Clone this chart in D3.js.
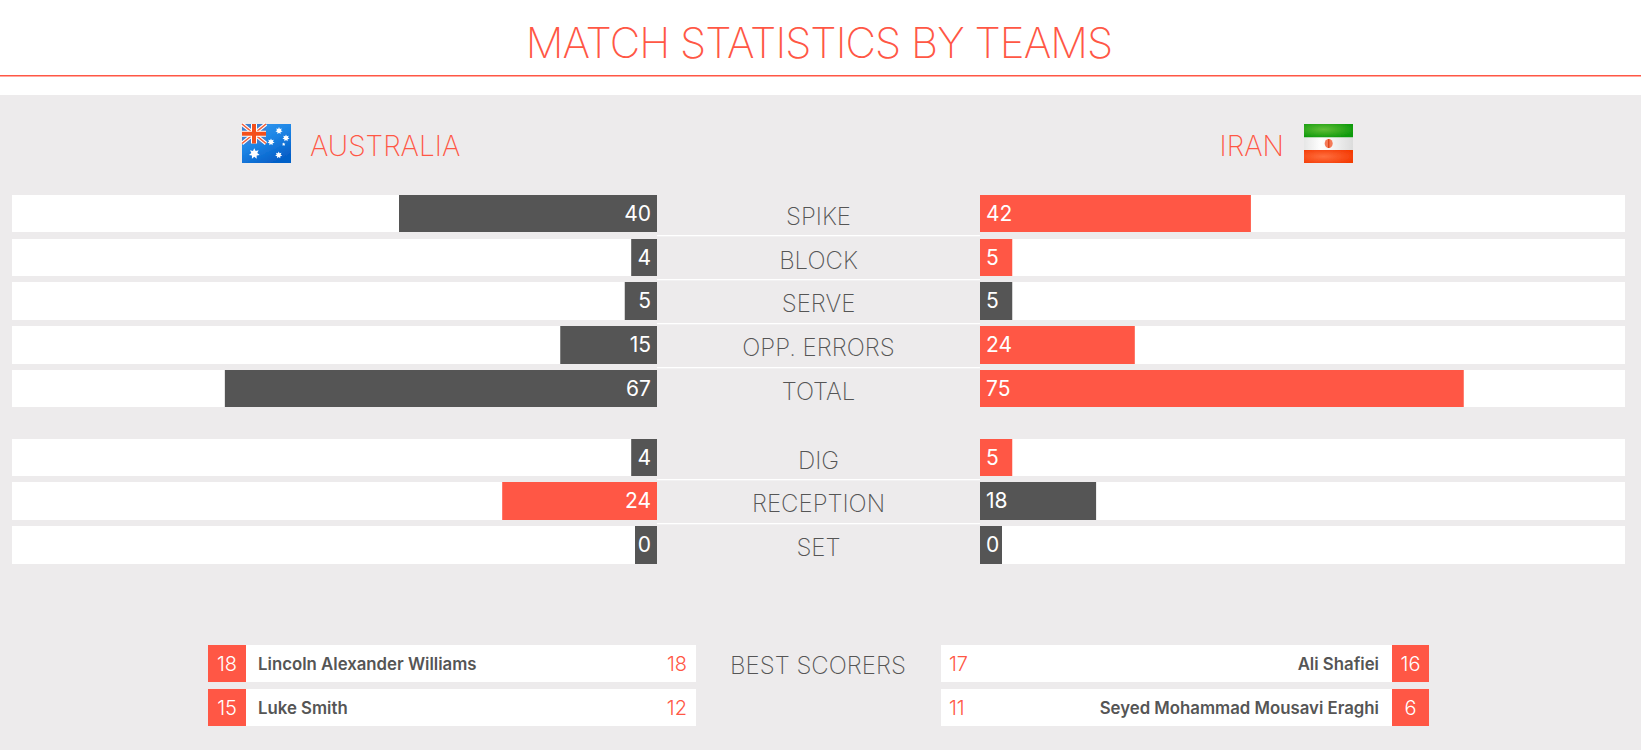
<!DOCTYPE html>
<html>

<head>
    <title>Match statistics by teams</title>
    <script src="https://d3js.org/d3.v7.min.js"></script>
    <style>
        body { margin: 0; background: #edebec; }
        svg { display: block; }
        text { font-family: Inter, Lato, sans-serif; }
    </style>
</head>

<body>
    <svg id="chart" width="1641" height="750"></svg>

    <script>
        const attackCategories = ["SPIKE", "BLOCK", "SERVE", "OPP. ERRORS", "TOTAL"];
        const attackAustralia = [40, 4, 5, 15, 67];
        const attackIran = [42, 5, 5, 24, 75];

        const defenceCategories = ["DIG", "RECEPTION", "SET"];
        const defenceAustralia = [4, 24, 0];
        const defenceIran = [5, 18, 0];

        const scorerRows = [0, 1];
        const australiaScorers = ["Lincoln Alexander Williams", "Luke Smith"];
        const australiaShirts = [18, 15];
        const australiaPoints = [18, 12];
        const iranScorers = ["Ali Shafiei", "Seyed Mohammad Mousavi Eraghi"];
        const iranShirts = [16, 6];
        const iranPoints = [17, 11];

        const coral = "#ff5745", dark = "#555555", grey = "#edebec";
        const leftEdge = 657, rightEdge = 980, barSpan = 645, minBar = 22;
        const midX = (leftEdge + rightEdge) / 2;

        const svg = d3.select("#chart");
        const defs = svg.append("defs");

        defs.append("filter").attr("id", "soft").append("feGaussianBlur").attr("stdDeviation", 0.35);

        // background and header
        svg.append("rect").attr("width", 1641).attr("height", 750).attr("fill", grey);
        svg.append("rect").attr("width", 1641).attr("height", 95).attr("fill", "#fff");
        svg.append("rect").attr("y", 75).attr("width", 1641).attr("height", 1.5).attr("fill", coral);
        svg.append("text").attr("x", 819).attr("y", 58).attr("text-anchor", "middle")
            .attr("font-size", 42).attr("letter-spacing", -0.95).attr("font-weight", 200).attr("fill", coral)
            .text("MATCH STATISTICS BY TEAMS");

        svg.append("text").attr("x", 310).attr("y", 156).attr("font-size", 28).attr("font-weight", 200)
            .attr("fill", coral).text("AUSTRALIA");
        svg.append("text").attr("x", 1284).attr("y", 156).attr("text-anchor", "end").attr("font-size", 28)
            .attr("font-weight", 200).attr("fill", coral).text("IRAN");

        drawAustraliaFlag(242, 124);
        drawIranFlag(1304, 124);

        var xScale = d3.scaleLinear().domain([0, 100]).range([0, barSpan]);

        function drawGroup(categories, left, right, top, bottom, pad) {
            var yScale = d3.scaleBand().domain(categories).range([top, bottom]).paddingInner(pad);
            var g = svg.append("g");

            categories.forEach(function (cat, i) {
                var y = Math.round(yScale(cat)), h = Math.round(yScale(cat) + yScale.bandwidth()) - y;
                var lw = Math.max(xScale(left[i]), minBar), rw = Math.max(xScale(right[i]), minBar);
                var row = g.append("g");

                // thin white separator under the label
                if (i < categories.length - 1) {
                    var nextTop = Math.round(yScale(categories[i + 1]));
                    row.append("rect").attr("x", leftEdge).attr("width", rightEdge - leftEdge)
                        .attr("y", Math.floor((y + h + nextTop) / 2)).attr("height", 1.3).attr("fill", "#fff");
                }

                row.append("rect").attr("x", leftEdge - barSpan).attr("y", y).attr("width", barSpan).attr("height", h).attr("fill", "#fff");
                row.append("rect").attr("x", rightEdge).attr("y", y).attr("width", barSpan).attr("height", h).attr("fill", "#fff");
                row.append("rect").attr("x", leftEdge - lw).attr("y", y).attr("width", lw).attr("height", h)
                    .attr("fill", left[i] > right[i] ? coral : dark);
                row.append("rect").attr("x", rightEdge).attr("y", y).attr("width", rw).attr("height", h)
                    .attr("fill", right[i] > left[i] ? coral : dark);

                row.append("text").attr("x", leftEdge - 6).attr("y", y + 26).attr("text-anchor", "end")
                    .attr("font-size", 21).attr("font-weight", 400).attr("fill", "#fff").text(left[i]);
                row.append("text").attr("x", rightEdge + 6).attr("y", y + 26)
                    .attr("font-size", 21).attr("font-weight", 400).attr("fill", "#fff").text(right[i]);
                row.append("text").attr("x", midX).attr("y", y + 29.5).attr("text-anchor", "middle")
                    .attr("font-size", 24).attr("font-weight", 250).attr("fill", dark).text(cat);
            });
        }

        drawGroup(attackCategories, attackAustralia, attackIran, 195, 407.4, 0.143);
        drawGroup(defenceCategories, defenceAustralia, defenceIran, 438.7, 563.7, 0.14);

        // best scorers
        var scorerY = d3.scaleBand().domain(scorerRows).range([645, 726]).paddingInner(0.159);

        svg.append("text").attr("x", 818).attr("y", 674).attr("text-anchor", "middle")
            .attr("font-size", 24).attr("font-weight", 250).attr("fill", dark).text("BEST SCORERS");

        scorerRows.forEach(function (i) {
            var y = scorerY(i), h = scorerY.bandwidth();
            svg.append("rect").attr("x", 208).attr("y", y).attr("width", 488).attr("height", h).attr("fill", "#fff");
            svg.append("rect").attr("x", 208).attr("y", y).attr("width", 38).attr("height", h).attr("fill", coral);
            svg.append("text").attr("x", 227).attr("y", y + 26).attr("text-anchor", "middle")
                .attr("font-size", 20).attr("font-weight", 300).attr("fill", "#fff").text(australiaShirts[i]);
            svg.append("text").attr("x", 258).attr("y", y + 25).attr("font-size", 16.8).attr("font-weight", 600)
                .attr("fill", dark).text(australiaScorers[i]);
            svg.append("text").attr("x", 687).attr("y", y + 26).attr("text-anchor", "end")
                .attr("font-size", 20).attr("font-weight", 300).attr("fill", coral).text(australiaPoints[i]);

            svg.append("rect").attr("x", 941).attr("y", y).attr("width", 488).attr("height", h).attr("fill", "#fff");
            svg.append("rect").attr("x", 1392).attr("y", y).attr("width", 37).attr("height", h).attr("fill", coral);
            svg.append("text").attr("x", 1410.5).attr("y", y + 26).attr("text-anchor", "middle")
                .attr("font-size", 20).attr("font-weight", 300).attr("fill", "#fff").text(iranShirts[i]);
            svg.append("text").attr("x", 1379).attr("y", y + 25).attr("text-anchor", "end").attr("font-size", 16.8)
                .attr("font-weight", 600).attr("fill", dark).text(iranScorers[i]);
            svg.append("text").attr("x", 949).attr("y", y + 26)
                .attr("font-size", 20).attr("font-weight", 300).attr("fill", coral).text(iranPoints[i]);
        });

        function star(cx, cy, r, n) {
            var pts = [];
            for (var k = 0; k < n * 2; k++) {
                var a = -Math.PI / 2 + k * Math.PI / n, rr = k % 2 ? r * 0.55 : r;
                pts.push((cx + rr * Math.cos(a)) + "," + (cy + rr * Math.sin(a)));
            }
            return pts.join(" ");
        }

        function drawAustraliaFlag(x, y) {
            var grad = defs.append("linearGradient").attr("id", "ausBlue").attr("x1", 0).attr("y1", 0).attr("x2", 0.6).attr("y2", 1);
            grad.append("stop").attr("offset", 0).attr("stop-color", "#3a9cf0");
            grad.append("stop").attr("offset", 0.5).attr("stop-color", "#1e86e6");
            grad.append("stop").attr("offset", 1).attr("stop-color", "#0660c8");
            var f = svg.append("g").attr("transform", "translate(" + x + "," + y + ")").attr("filter", "url(#soft)");
            f.append("rect").attr("width", 49).attr("height", 39).attr("fill", "url(#ausBlue)");
            // union jack corner
            f.append("rect").attr("width", 24).attr("height", 19.5).attr("fill", "#3f7fd0");
            f.append("path").attr("d", "M0,0L24,19.5M24,0L0,19.5").attr("stroke", "#fff").attr("stroke-width", 3.6);
            f.append("path").attr("d", "M0,0L24,19.5M24,0L0,19.5").attr("stroke", "#f2603c").attr("stroke-width", 1.6);
            f.append("path").attr("d", "M12,0V19.5M0,9.75H24").attr("stroke", "#fff").attr("stroke-width", 6);
            f.append("path").attr("d", "M12,0V19.5M0,9.75H24").attr("stroke", "#f4501e").attr("stroke-width", 4);
            var stars = [[12.3, 29.7, 5.5, 7], [37, 6.7, 3.6, 7], [44, 14, 3.6, 7], [29, 18, 3.6, 7], [41.7, 20.3, 1.8, 5], [36.7, 31, 3.6, 7]];
            f.selectAll("polygon").data(stars).enter().append("polygon")
                .attr("points", d => star(d[0], d[1], d[2], d[3])).attr("fill", "#fff");
        }

        function drawIranFlag(x, y) {
            var gr = defs.append("radialGradient").attr("id", "irGreen").attr("cx", 0.4).attr("cy", 0.4).attr("r", 0.65);
            gr.append("stop").attr("offset", 0).attr("stop-color", "#62be38");
            gr.append("stop").attr("offset", 1).attr("stop-color", "#0f9a0c");
            var re = defs.append("radialGradient").attr("id", "irRed").attr("cx", 0.4).attr("cy", 0.5).attr("r", 0.65);
            re.append("stop").attr("offset", 0).attr("stop-color", "#ff6e3e");
            re.append("stop").attr("offset", 1).attr("stop-color", "#f43c06");
            var wh = defs.append("linearGradient").attr("id", "irWhite").attr("x1", 0).attr("x2", 1).attr("y1", 0).attr("y2", 0);
            wh.append("stop").attr("offset", 0).attr("stop-color", "#e6e6e6");
            wh.append("stop").attr("offset", 0.35).attr("stop-color", "#ffffff");
            wh.append("stop").attr("offset", 1).attr("stop-color", "#dcdcdc");
            var f = svg.append("g").attr("transform", "translate(" + x + "," + y + ")").attr("filter", "url(#soft)");
            f.append("rect").attr("width", 49).attr("height", 13.5).attr("fill", "url(#irGreen)");
            f.append("rect").attr("y", 13.5).attr("width", 49).attr("height", 12.5).attr("fill", "url(#irWhite)");
            f.append("rect").attr("y", 26).attr("width", 49).attr("height", 13).attr("fill", "url(#irRed)");
            f.append("ellipse").attr("cx", 24.7).attr("cy", 19.5).attr("rx", 4).attr("ry", 4.5).attr("fill", "#f47a58");
            f.append("rect").attr("x", 24).attr("y", 15).attr("width", 1.4).attr("height", 9).attr("fill", "#e0481f");
        }
    </script>
</body>

</html>
